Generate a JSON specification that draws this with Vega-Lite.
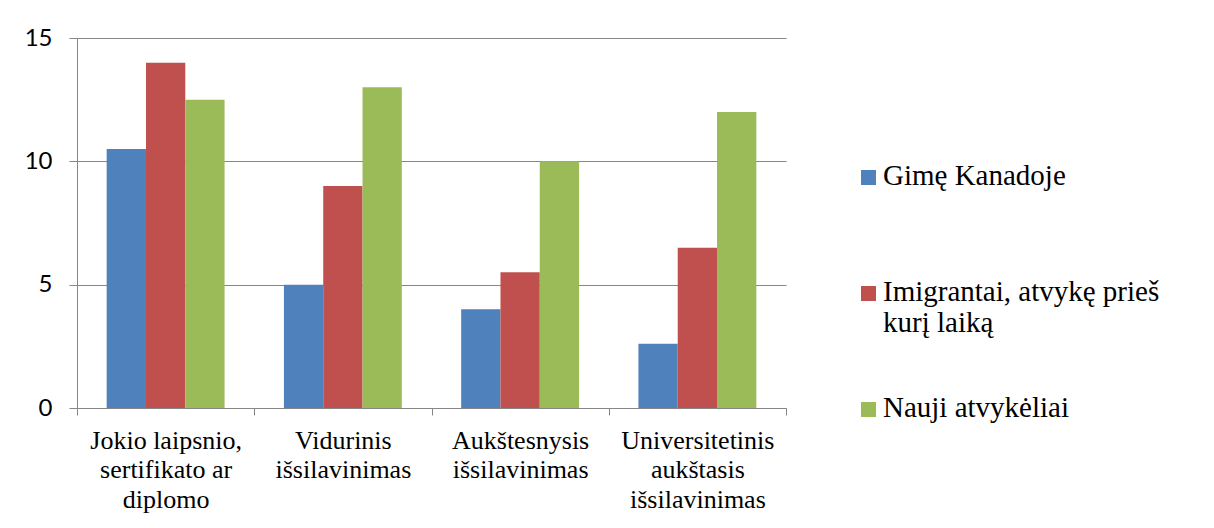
{
  "$schema": "https://vega.github.io/schema/vega-lite/v6.json",
  "width": 709,
  "height": 370,
  "autosize": {"type": "none"},
  "padding": {"left": 77, "top": 38, "right": 428, "bottom": 120},
  "background": "white",
  "config": {"view": {"stroke": null}},
  "data": {
    "values": [
      {"category": "Jokio laipsnio, sertifikato ar diplomo", "series": "Gimę Kanadoje", "value": 10.5},
      {"category": "Jokio laipsnio, sertifikato ar diplomo", "series": "Imigrantai, atvykę prieš kurį laiką", "value": 14},
      {"category": "Jokio laipsnio, sertifikato ar diplomo", "series": "Nauji atvykėliai", "value": 12.5},
      {"category": "Vidurinis išsilavinimas", "series": "Gimę Kanadoje", "value": 5},
      {"category": "Vidurinis išsilavinimas", "series": "Imigrantai, atvykę prieš kurį laiką", "value": 9},
      {"category": "Vidurinis išsilavinimas", "series": "Nauji atvykėliai", "value": 13},
      {"category": "Aukštesnysis išsilavinimas", "series": "Gimę Kanadoje", "value": 4},
      {"category": "Aukštesnysis išsilavinimas", "series": "Imigrantai, atvykę prieš kurį laiką", "value": 5.5},
      {"category": "Aukštesnysis išsilavinimas", "series": "Nauji atvykėliai", "value": 10},
      {"category": "Universitetinis aukštasis išsilavinimas", "series": "Gimę Kanadoje", "value": 2.6},
      {"category": "Universitetinis aukštasis išsilavinimas", "series": "Imigrantai, atvykę prieš kurį laiką", "value": 6.5},
      {"category": "Universitetinis aukštasis išsilavinimas", "series": "Nauji atvykėliai", "value": 12}
    ]
  },
  "mark": {"type": "bar"},
  "encoding": {
    "x": {
      "field": "category",
      "type": "nominal",
      "sort": null,
      "scale": {"paddingInner": 0, "paddingOuter": 0},
      "axis": {
        "title": null,
        "tickBand": "extent",
        "tickExtra": true,
        "tickSize": 7,
        "tickColor": "#868686",
        "domainColor": "#868686",
        "labelAngle": 0,
        "labelFont": "Liberation Serif, Times New Roman, serif",
        "labelFontSize": 26,
        "labelColor": "black",
        "labelBaseline": "alphabetic",
        "labelPadding": 33,
        "labelLineHeight": 29.5,
        "labelLimit": 300,
        "labelExpr": "datum.value == 'Jokio laipsnio, sertifikato ar diplomo' ? ['Jokio laipsnio,', 'sertifikato ar', 'diplomo'] : datum.value == 'Vidurinis išsilavinimas' ? ['Vidurinis', 'išsilavinimas'] : datum.value == 'Aukštesnysis išsilavinimas' ? ['Aukštesnysis', 'išsilavinimas'] : datum.value == 'Universitetinis aukštasis išsilavinimas' ? ['Universitetinis', 'aukštasis', 'išsilavinimas'] : ''"
      }
    },
    "xOffset": {
      "field": "series",
      "type": "nominal",
      "sort": null,
      "scale": {"paddingInner": 0, "paddingOuter": 0.755}
    },
    "y": {
      "field": "value",
      "type": "quantitative",
      "scale": {"domain": [0, 15]},
      "axis": {
        "title": null,
        "values": [0, 5, 10, 15],
        "grid": true,
        "gridColor": "#868686",
        "domainColor": "#868686",
        "tickColor": "#868686",
        "tickSize": 8,
        "labelPadding": 17,
        "labelFont": "Lato",
        "labelFontSize": 24,
        "labelColor": "black"
      }
    },
    "color": {
      "field": "series",
      "type": "nominal",
      "sort": null,
      "scale": {"range": ["#4F81BD", "#C0504D", "#9BBB59"]},
      "legend": {
        "orient": "none",
        "legendX": 777,
        "legendY": 132,
        "title": null,
        "padding": 0,
        "symbolType": "M-1,-1.93H1V0.07H-1Z",
        "symbolSize": 225,
        "symbolStrokeWidth": 0,
        "labelFont": "Liberation Serif, Times New Roman, serif",
        "labelFontSize": 29,
        "labelColor": "black",
        "labelBaseline": "alphabetic",
        "labelOffset": 0,
        "labelLimit": 400,
        "rowPadding": 55,
        "gridAlign": "all",
        "labelExpr": "datum.label == 'Imigrantai, atvykę prieš kurį laiką' ? ['Imigrantai, atvykę prieš', 'kurį laiką'] : datum.label"
      }
    }
  }
}
